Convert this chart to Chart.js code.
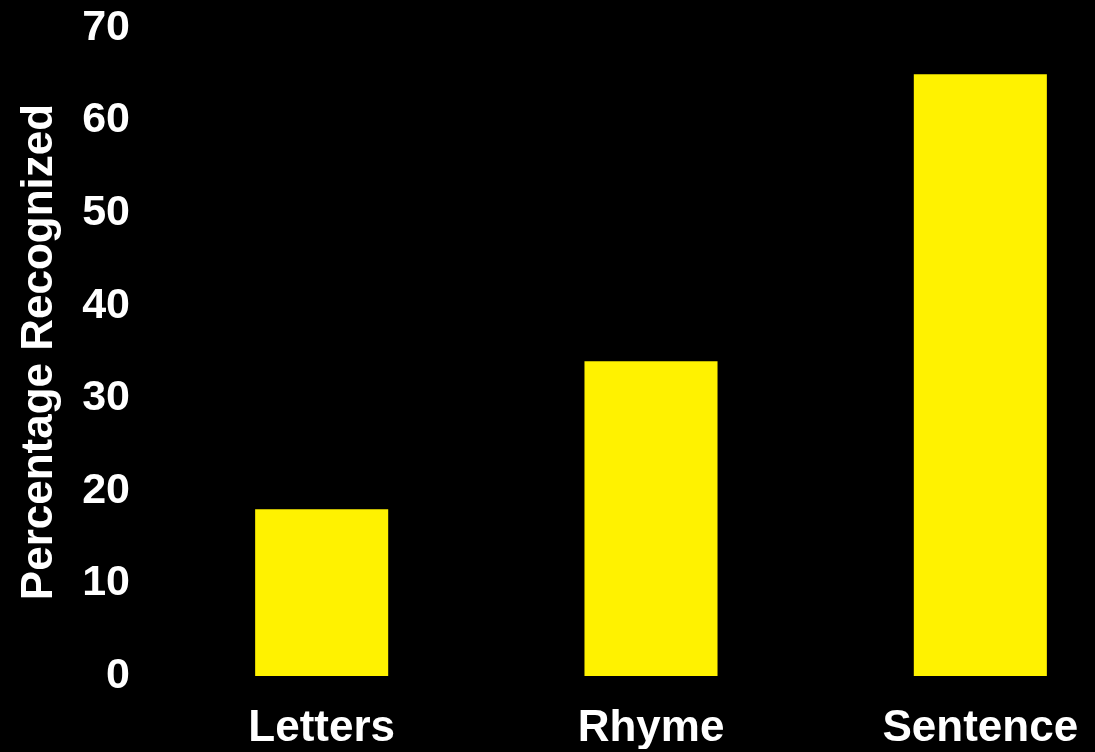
<!DOCTYPE html>
<html>
<head>
<meta charset="utf-8">
<script src="https://cdn.jsdelivr.net/npm/chart.js@4"></script>
<style>
  html, body { margin: 0; padding: 0; background: #000; overflow: hidden; }
  #wrap { width: 1150px; height: 752px; }
</style>
</head>
<body>
<div id="wrap"><canvas id="myBarChart"></canvas></div>
<script>
// カテゴリと値
const categories = ["Letters", "Rhyme", "Sentence"];
const percentRecognized = [18, 34, 65];
const yTicks = [0, 10, 20, 30, 40, 50, 60, 70];

const FONT = "'Liberation Sans', Arial, Helvetica, sans-serif";

let ctx = document.getElementById("myBarChart");
let myBarChart = new Chart(ctx, {
  type: 'bar',
  data: {
    labels: categories,
    datasets: [{
      data: percentRecognized,
      backgroundColor: "#fff200",
      categoryPercentage: 1,
      barPercentage: 0.404
    }]
  },
  options: {
    responsive: true,
    maintainAspectRatio: false,
    animation: false,
    layout: { padding: { left: 0, right: 5, top: 28, bottom: 3 } },
    plugins: {
      legend: { display: false },
      tooltip: { enabled: false }
    },
    scales: {
      x: {
        grid: { display: false, drawTicks: false },
        border: { display: false },
        afterFit: function (axis) {
          axis.height = 73;
          axis.paddingLeft = 0;
          axis.paddingRight = 0;
        },
        ticks: {
          color: "#fff",
          padding: 26,
          font: { family: FONT, size: 44, weight: 'bold' }
        }
      },
      y: {
        min: 0,
        max: 70,
        afterBuildTicks: function (axis) {
          axis.ticks = yTicks.map(v => ({ value: v }));
        },
        afterFit: function (axis) {
          axis.width = 157;
          axis.paddingTop = 0;
          axis.paddingBottom = 0;
        },
        grid: { display: false, drawTicks: false },
        border: { display: false },
        ticks: {
          color: "#fff",
          padding: 27,
          font: { family: FONT, size: 43, weight: 'bold' }
        },
        title: {
          display: true,
          text: "Percentage Recognized",
          color: "#fff",
          padding: { top: 13, bottom: 0 },
          font: { family: FONT, size: 44, weight: 'bold' }
        }
      }
    }
  }
});
</script>
</body>
</html>
